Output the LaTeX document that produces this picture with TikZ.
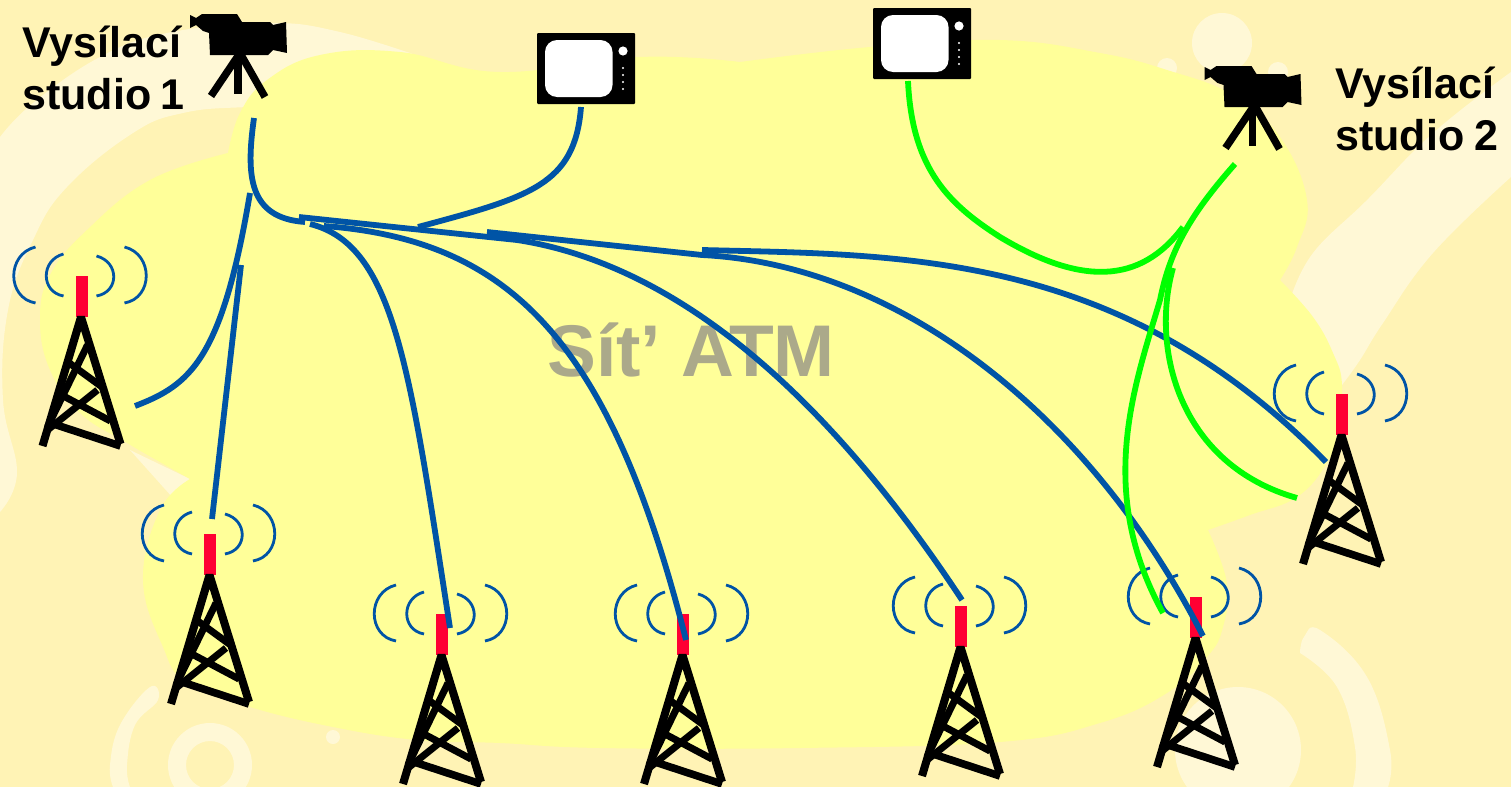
\documentclass[tikz,border=0pt]{standalone}
\usepackage{fontspec}
\setmainfont{Liberation Sans}
\definecolor{bgc}{HTML}{FFF3B5}
\definecolor{swirl}{HTML}{FFF8D6}
\definecolor{blobc}{HTML}{FFFF99}
\definecolor{bluel}{HTML}{0054A6}
\definecolor{greenl}{HTML}{00FF00}
\definecolor{mast}{HTML}{FF0033}
\definecolor{atm}{HTML}{ABA98A}
\tikzset{
  bluewire/.style={draw=bluel,line width=2.9pt},
  greenwire/.style={draw=greenl,line width=2.9pt},
  wave/.style={draw=bluel,line width=1.4pt},
  strut/.style={draw=black,line width=3.5pt},
  label/.style={font=\bfseries\fontsize{21.5}{26}\selectfont,align=left,inner sep=0pt,anchor=west},
  tower/.pic={
    \fill[mast] (-6,0) rectangle (6,41);
    \draw[strut,line width=4pt,miter limit=2] (-39,170) -- (-0.5,41) -- (39,168);
    \draw[strut] (6,69) -- (-34,151);
    \draw[strut] (-15,85) -- (22,112);
    \draw[strut] (16,114) -- (-34,154);
    \draw[strut] (-20,119) -- (29,145);
    \draw[strut,line width=3.8pt] (-28,148) -- (39,170);
    \draw[wave] (-46,-29) .. controls (-75,-22) and (-75,22) .. (-46,27);
    \draw[wave] (-18,-22) .. controls (-41,-16) and (-41,16) .. (-18,20);
    \draw[wave] (15,-20) .. controls (38,-14) and (38,16) .. (15,20);
    \draw[wave] (43,-29) .. controls (72,-22) and (72,22) .. (43,27);
  },
  camera/.pic={
    \fill[black] (0,1) -- (6,4) -- (12,0) -- (47,0) -- (52,8) -- (80,8) -- (83,11) -- (96,8) -- (97,39) -- (83,36) -- (78,41) -- (20,41) -- (19,19) -- (13,17) -- (6,11) -- (0,14) -- cycle;
    \draw[strut,line width=3.7pt] (50,39) -- (21,82);
    \draw[strut,line width=3.7pt] (48,39) -- (48,80);
    \draw[strut,line width=3.7pt] (50,39) -- (75,83);
  },
  tvset/.pic={
    \fill[black,rounded corners=0.5pt] (0,0) rectangle (98,71);
    \fill[white,rounded corners=6pt] (8,7) rectangle (75.5,64);
    \fill[white] (86,18) circle (2.3pt);
    \foreach \yy in {35,42,49,56} \fill[white] (86,\yy) circle (0.6pt);
  }
}
\begin{document}
\begin{tikzpicture}[x=0.5pt,y=-0.5pt]
\useasboundingbox (0,0) rectangle (1511,787);
\begin{scope}
\clip (0,0) rectangle (1511,787);
\fill[bgc] (0,0) rectangle (1511,787);
% swirl bands
\fill[swirl] plot[smooth,tension=0.7] coordinates {(0,137) (33,103) (100,57) (167,33) (267,23) (340,32) (430,60)}
  -- plot[smooth,tension=0.7] coordinates {(340,105) (247,107) (183,113) (133,133) (67,187) (33,240) (8,310) (3,400) (17,473) (0,512)} -- cycle;
\fill[swirl] (130,450) -- (190,479) -- (173,498) -- cycle;
\fill[swirl] plot[smooth,tension=0.7] coordinates {(1511,72) (1433,133) (1367,200) (1313,253) (1290,300)}
  -- plot[smooth,tension=0.7] coordinates {(1342,385) (1360,360) (1383,323) (1433,253) (1511,177)} -- cycle;
\fill[swirl] (1222,43) circle (15pt);
\fill[swirl] (1167,68) circle (5pt);
\fill[swirl] (1278,72) circle (5pt);
\fill[swirl] plot[smooth,tension=0.7] coordinates {(1300,653) (1304,637) (1320,630) (1367,677) (1390,750) (1388,787)}
  -- plot[smooth,tension=0.7] coordinates {(1353,787) (1355,747) (1337,687) (1300,653)} -- cycle;
\fill[swirl] (1238,750) circle (31.5pt);
\fill[swirl] plot[smooth,tension=0.7] coordinates {(113,787) (110,765) (120,725) (150,687) (158,700) (135,725) (127,765) (130,787)} -- cycle;
\fill[swirl,even odd rule] (210,765) circle (21pt) (210,765) circle (12pt);
\fill[swirl] (333,737) circle (3.5pt);
\end{scope}
% cloud
\fill[blobc]
  plot[smooth,tension=0.7] coordinates {(228,153) (240,113) (267,80) (320,55) (400,52) (500,72) (640,57) (740,62)}
  -- plot[smooth,tension=0.7] coordinates {(740,62) (870,47) (1000,40) (1100,53) (1167,70) (1233,95) (1280,137) (1307,200) (1297,247) (1280,280)}
  -- plot[smooth,tension=0.7] coordinates {(1280,280) (1313,317) (1333,353) (1342,385) (1337,433) (1327,463) (1297,497) (1250,515) (1208,530)}
  -- plot[smooth,tension=0.7] coordinates {(1208,530) (1227,583) (1223,627) (1207,657) (1167,693) (1100,723) (1000,742) (800,748) (600,748) (500,743) (417,740) (333,727) (250,707) (187,683) (163,647) (143,580) (160,510) (190,479)}
  -- plot[smooth,tension=0.7] coordinates {(190,479) (127,443) (80,413) (50,370) (40,320) (50,275) (87,230) (150,180) (228,153)}
  -- cycle;
\node[font=\bfseries\fontsize{36.6}{40}\selectfont,text=atm,inner sep=0pt] (net) at (691,350) {Sít’ ATM};
% nodes
\pic at (190,14) {camera};
\pic at (1204.5,66) {camera};
\pic at (537,33) {tvset};
\pic at (873,8) {tvset};
\pic at (81.5,276) {tower};
\pic at (210,534) {tower};
\pic at (442,614) {tower};
\pic at (683,614) {tower};
\pic at (961,606) {tower};
\pic at (1196,597) {tower};
\pic at (1342,394) {tower};
\node[label] (s1) at (22,68) {Vysílací\\[-0.2pt]studio\kern-1.4pt\ 1};
\node[label] (s2) at (1335,109) {Vysílací\\[-0.2pt]studio\kern-1pt\ 2};
% anchor points
\coordinate (cam1) at (254,118);
\coordinate (cam2) at (1235,164);
\coordinate (tv1) at (581,107);
\coordinate (tv2) at (908,81);
\coordinate (t1) at (135,406);
\coordinate (t2) at (212,519);
\coordinate (t3) at (450,628);
\coordinate (t4) at (686,640);
\coordinate (t5) at (962,600);
\coordinate (t6) at (1203,636);
\coordinate (t7) at (1326,462);
\coordinate (hub) at (305,222);
\coordinate (jA) at (299,217);
\coordinate (jB) at (310,224);
\coordinate (jC) at (324,226);
\coordinate (jD) at (487,232);
\coordinate (jE) at (702,250);
\coordinate (jF) at (418,227);
\coordinate (jG) at (517,240);
\coordinate (jH) at (702,255);
\coordinate (gA) at (1183,227);
\coordinate (gB) at (1173,268);
\coordinate (gC) at (1297,498);
\coordinate (gD) at (1163,613);
\coordinate (gE) at (1160,300);
\coordinate (gF) at (1000,237);
% blue wires
\draw[bluewire] (cam1) .. controls (246,175) and (248,218) .. (hub);
\draw[bluewire] (t1) .. controls (190,385) and (222,360) .. (250,193);
\draw[bluewire] (t2) -- (241,265);
\draw[bluewire] (tv1) .. controls (575,185) and (530,197) .. (jF);
\draw[bluewire] (jB) .. controls (395,245) and (410,370) .. (t3);
\draw[bluewire] (jC) .. controls (510,240) and (610,340) .. (t4);
\draw[bluewire] (jA) -- (jG) .. controls (660,262) and (810,370) .. (t5);
\draw[bluewire] (jD) -- (jH) .. controls (900,265) and (1090,415) .. (t6);
\draw[bluewire] (jE) .. controls (900,255) and (1120,250) .. (t7);
% green wires
\draw[greenwire] (tv2) .. controls (912,170) and (950,205) .. (gF) .. controls (1080,285) and (1140,285) .. (gA);
\draw[greenwire] (cam2) .. controls (1190,215) and (1170,250) .. (gE) .. controls (1135,385) and (1095,490) .. (gD);
\draw[greenwire] (gB) .. controls (1150,350) and (1180,465) .. (gC);
\end{tikzpicture}
\end{document}
